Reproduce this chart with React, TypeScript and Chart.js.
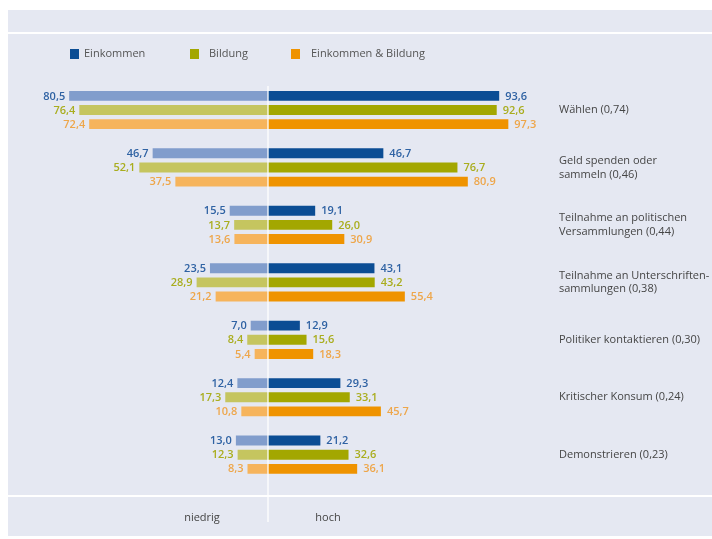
import React, { useEffect, useRef } from 'react';
import { Chart, registerables } from 'chart.js';

Chart.register(...registerables);

const categories: (string | string[])[] = [
  'Wählen (0,74)',
  ['Geld spenden oder', 'sammeln (0,46)'],
  ['Teilnahme an politischen', 'Versammlungen (0,44)'],
  ['Teilnahme an Unterschriften-', 'sammlungen (0,38)'],
  'Politiker kontaktieren (0,30)',
  'Kritischer Konsum (0,24)',
  'Demonstrieren (0,23)',
];

const seriesNames = ['Einkommen', 'Bildung', 'Einkommen & Bildung'];

const einkommenNiedrig = [80.5, 46.7, 15.5, 23.5, 7.0, 12.4, 13.0];
const einkommenHoch = [93.6, 46.7, 19.1, 43.1, 12.9, 29.3, 21.2];
const bildungNiedrig = [76.4, 52.1, 13.7, 28.9, 8.4, 17.3, 12.3];
const bildungHoch = [92.6, 76.7, 26.0, 43.2, 15.6, 33.1, 32.6];
const beideNiedrig = [72.4, 37.5, 13.6, 21.2, 5.4, 10.8, 8.3];
const beideHoch = [97.3, 80.9, 30.9, 55.4, 18.3, 45.7, 36.1];

const sideLabels = ['niedrig', 'hoch'];

const darkColors = ['#0b4d94', '#a3a700', '#ef9300'];
const lightColors = ['#819dcc', '#c5c55f', '#f6b45c'];
const labelColors = ['#2f62a3', '#a9ad1e', '#eea64a'];

const lowSeries = [einkommenNiedrig, bildungNiedrig, beideNiedrig];
const highSeries = [einkommenHoch, bildungHoch, beideHoch];

const fmt = (v: number) => v.toFixed(1).replace('.', ',');

const FONT = '"Open Sans", "DejaVu Sans", sans-serif';

const decorPlugin = {
  id: 'decor',
  beforeDraw(chart: any) {
    const { ctx, width, height } = chart;
    ctx.save();
    ctx.fillStyle = '#ffffff';
    ctx.fillRect(0, 0, width, height);
    ctx.fillStyle = '#e5e8f2';
    ctx.fillRect(8, 10, width - 8, 526);
    ctx.strokeStyle = '#ffffff';
    ctx.lineWidth = 2;
    ctx.beginPath();
    ctx.moveTo(8, 33);
    ctx.lineTo(width, 33);
    ctx.moveTo(8, 496);
    ctx.lineTo(width, 496);
    ctx.stroke();
    ctx.restore();
  },
  afterDatasetsDraw(chart: any) {
    const { ctx } = chart;
    const xScale = chart.scales.x;
    const x0 = xScale.getPixelForValue(0);
    ctx.save();
    // center line
    ctx.strokeStyle = 'rgba(255,255,255,0.85)';
    ctx.lineWidth = 1.5;
    ctx.beginPath();
    ctx.moveTo(x0, 86);
    ctx.lineTo(x0, 522);
    ctx.stroke();

    // value labels
    ctx.font = `600 11px ${FONT}`;
    ctx.textBaseline = 'middle';
    chart.data.datasets.forEach((ds: any, di: number) => {
      const meta = chart.getDatasetMeta(di);
      ctx.fillStyle = labelColors[ds.seriesIndex];
      meta.data.forEach((el: any, j: number) => {
        const v = ds.data[j] as number;
        if (v < 0) {
          ctx.textAlign = 'right';
          ctx.fillText(fmt(-v), el.x - 4, el.y + 0.5);
        } else {
          ctx.textAlign = 'left';
          ctx.fillText(fmt(v), el.x + 6, el.y + 0.5);
        }
      });
    });

    // legend
    const legendPos = [
      [70, 84],
      [190, 209],
      [291, 311],
    ];
    ctx.font = `400 11px ${FONT}`;
    ctx.textAlign = 'left';
    ctx.textBaseline = 'middle';
    seriesNames.forEach((name, i) => {
      ctx.fillStyle = darkColors[i];
      ctx.fillRect(legendPos[i][0], 49, 9, 10);
      ctx.fillStyle = '#555555';
      ctx.fillText(name, legendPos[i][1], 54);
    });

    // niedrig / hoch
    ctx.fillStyle = '#444444';
    ctx.textAlign = 'center';
    ctx.fillText(sideLabels[0], x0 - 66, 518);
    ctx.fillText(sideLabels[1], x0 + 60, 518);
    ctx.restore();
  },
};

export default function App() {
  const canvasRef = useRef<HTMLCanvasElement | null>(null);

  useEffect(() => {
    if (!canvasRef.current) return;
    const datasets: any[] = [];
    for (let i = 0; i < 3; i++) {
      datasets.push({
        label: seriesNames[i] + ' niedrig',
        data: lowSeries[i].map((v) => -v),
        backgroundColor: lightColors[i],
        stack: 's' + i,
        seriesIndex: i,
        borderWidth: 0,
      });
      datasets.push({
        label: seriesNames[i] + ' hoch',
        data: highSeries[i],
        backgroundColor: darkColors[i],
        stack: 's' + i,
        seriesIndex: i,
        borderWidth: 0,
      });
    }
    const chart = new Chart(canvasRef.current, {
      type: 'bar',
      data: { labels: categories, datasets },
      options: {
        indexAxis: 'y',
        animation: false,
        responsive: true,
        maintainAspectRatio: false,
        categoryPercentage: 0.739,
        barPercentage: 0.7,
        layout: { padding: { left: 21, right: 0, top: 81.3, bottom: 55.6 } },
        plugins: {
          legend: { display: false },
          tooltip: { enabled: false },
        },
        scales: {
          x: {
            type: 'linear',
            min: -100,
            max: 110,
            stacked: true,
            display: false,
          },
          y: {
            type: 'category',
            position: 'right',
            stacked: true,
            grid: { display: false, drawTicks: false },
            border: { display: false },
            afterFit: (scale: any) => {
              scale.width = 172.3;
            },
            ticks: {
              padding: 19.3,
              color: '#454545',
              font: { family: FONT, size: 11, lineHeight: 1.27 },
              crossAlign: 'near',
            },
          },
        },
      } as any,
      plugins: [decorPlugin],
    });
    return () => chart.destroy();
  }, []);

  return (
    <div style={{ position: 'absolute', left: 0, top: 0, width: 712, height: 539 }}>
      <canvas ref={canvasRef} />
    </div>
  );
}
